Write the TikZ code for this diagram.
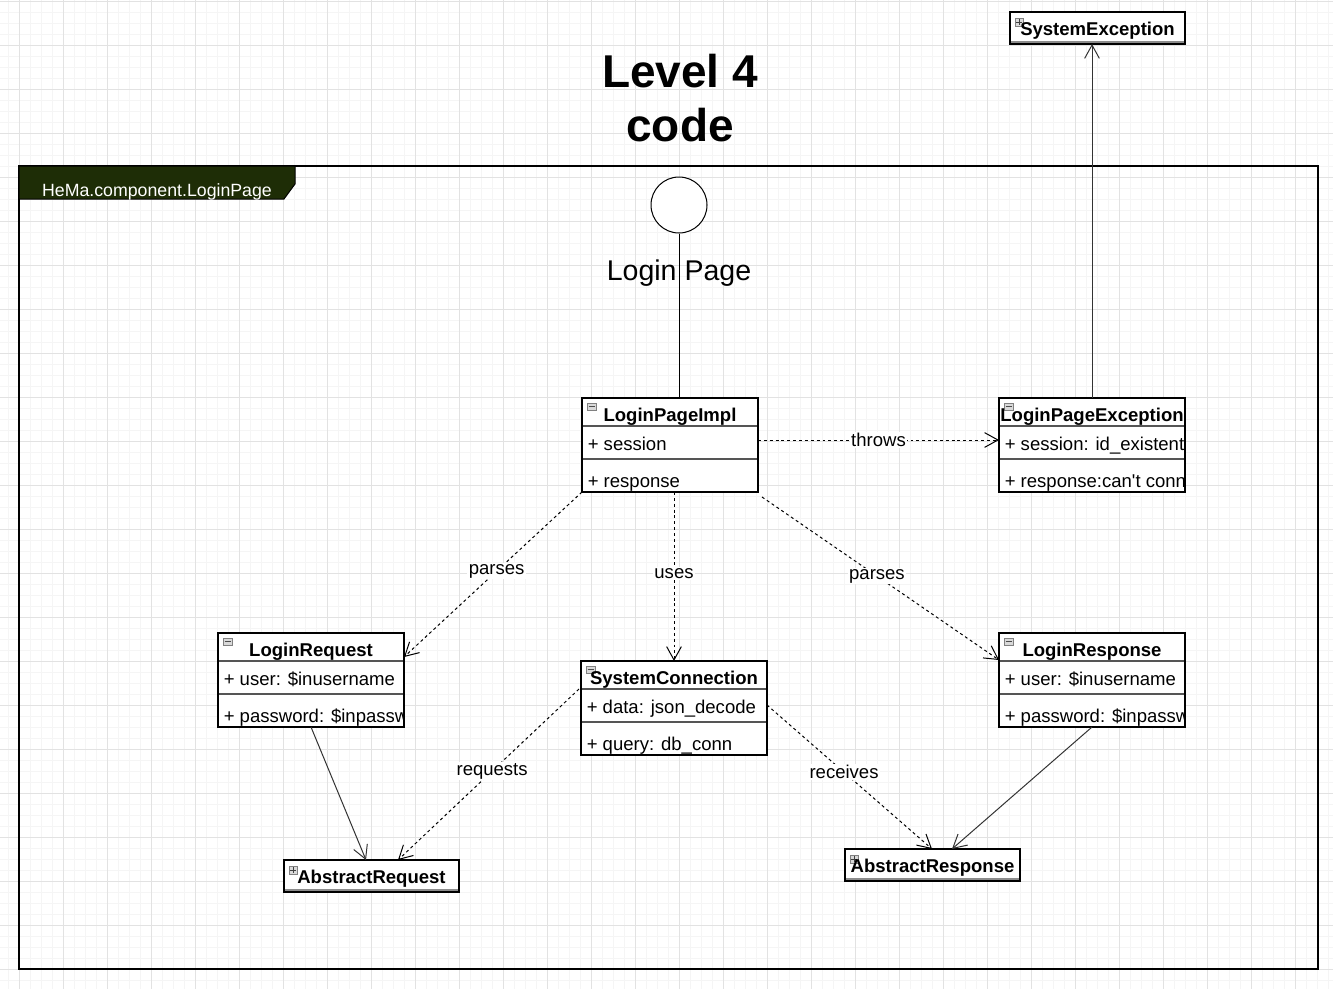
\documentclass[tikz,border=0pt]{standalone}
\usepackage{fontspec}
\setmainfont{Liberation Sans}
\usetikzlibrary{arrows.meta,calc}
\definecolor{tabgreen}{HTML}{1E2D06}
\definecolor{gridmajor}{HTML}{E2E2E2}
\definecolor{gridminor}{HTML}{F5F5F5}
\definecolor{divgray}{HTML}{555555}
\tikzset{
  cbox/.style={draw=black, line width=0.9pt, fill=white, inner sep=0pt, outer sep=0pt, rectangle},
  divline/.style={draw=divgray, line width=1.1pt},
  ctitle/.style={font=\fontsize{13.9}{16}\selectfont\bfseries, inner sep=0pt, anchor=base},
  cattr/.style={font=\fontsize{13.9}{16}\selectfont, inner sep=0pt, anchor=base west},
  lab/.style={font=\fontsize{13.9}{16}\selectfont, fill=white, inner sep=1pt},
  dep/.style={draw=black, line width=0.75pt, dash pattern=on 2.2pt off 2.2pt, -{Straight Barb[length=10pt,width=11pt]}},
  gen/.style={draw=black!80, line width=0.75pt, -{Straight Barb[length=10pt,width=11pt]}},
  icon/.style={draw=black!50, fill=black!15, line width=0.5pt},
}
\newcommand\umlclass[7]{%
  \node[cbox, anchor=north west, minimum width=#4*0.75pt, minimum height=70.5pt] (#1) at (#2,#3) {};
  \draw[divline] ($(#1.north west)+(0,28)$) -- ($(#1.north east)+(0,28)$);
  \draw[divline] ($(#1.north west)+(0,61)$) -- ($(#1.north east)+(0,61)$);
  \draw[icon] ($(#1.north west)+(5,5)$) rectangle ($(#1.north west)+(14,12)$);
  \draw[black!70, line width=0.6pt] ($(#1.north west)+(6.5,8.5)$) -- ($(#1.north west)+(12.5,8.5)$);
  \begin{scope}
    \clip (#1.north west) rectangle (#1.south east);
    \node[ctitle] at ($(#1.north)+(0,23)$) {#5};
    \node[cattr] at ($(#1.north west)+(5.5,52.5)$) {#6};
    \node[cattr] at ($(#1.north west)+(5.5,89)$) {#7};
  \end{scope}
  \draw[line width=0.9pt] (#1.north west) rectangle (#1.south east);
}
\newcommand\umlsmall[5]{%
  \node[cbox, anchor=north west, minimum width=#4*0.75pt, minimum height=24pt] (#1) at (#2,#3) {};
  \draw[black!45, line width=1.6pt] ($(#1.north west)+(0,29.6)$) -- ($(#1.north east)+(0,29.6)$);
  \draw[icon] ($(#1.north west)+(5,6)$) rectangle ($(#1.north west)+(13,14)$);
  \draw[black!75, line width=0.6pt] ($(#1.north west)+(6.3,10)$) -- ($(#1.north west)+(11.7,10)$);
  \draw[black!75, line width=0.6pt] ($(#1.north west)+(9,7.3)$) -- ($(#1.north west)+(9,12.7)$);
  \node[ctitle] at ($(#1.north)+(0,23.5)$) {#5};
  \draw[line width=0.9pt] (#1.north west) rectangle (#1.south east);
}
\begin{document}
\begin{tikzpicture}[x=0.75pt, y=-0.75pt]
\useasboundingbox (0,0) rectangle (1333,989);
\fill[white] (0,0) rectangle (1333,989);
% grid
\foreach \gx in {8.5,19.5,...,1333} \draw[gridminor, line width=0.75pt] (\gx,0) -- (\gx,989);
\foreach \gy in {1,12,...,989} \draw[gridminor, line width=0.75pt] (0,\gy) -- (1333,\gy);
\foreach \gx in {19.5,63.5,...,1333} \draw[gridmajor, line width=0.75pt] (\gx,0) -- (\gx,989);
\foreach \gy in {1,45,...,989} \draw[gridmajor, line width=0.75pt] (0,\gy) -- (1333,\gy);
% title
\node[font=\fontsize{34.5}{40.5}\selectfont\bfseries, align=center, inner sep=0pt] (title) at (680,98.5) {Level 4\\code};
% package frame
\draw[line width=0.8pt] (19,166) rectangle (1318,969);
\filldraw[fill=tabgreen, draw=black, line width=0.75pt] (19,166) -- (295,166) -- (295,184) -- (284,199) -- (19,199) -- cycle;
\node[font=\fontsize{13.3}{16}\selectfont, text=white, inner sep=0pt, anchor=base] (pkgname) at (157,196) {HeMa.component.LoginPage};
% interface
\node[draw, circle, fill=white, line width=0.75pt, minimum size=42pt, inner sep=0pt] (lp) at (679,205) {};
% classes
\umlclass{lpi}{582}{398}{176}{LoginPageImpl}{+ session}{+ response}
\umlclass{lpe}{999}{398}{186}{LoginPageException}{+ session: id\_existent}{+ response:can\textquotesingle t connect}
\umlclass{lreq}{218}{633}{186}{LoginRequest}{+ user: \$inusername}{+ password: \$inpassword}
\umlclass{sc}{581}{661}{186}{SystemConnection}{+ data: json\_decode}{+ query: db\_conn}
\umlclass{lresp}{999}{633}{186}{LoginResponse}{+ user: \$inusername}{+ password: \$inpassword}
\umlsmall{se}{1010}{12}{175}{SystemException}
\umlsmall{ar}{284}{860}{175}{AbstractRequest}
\umlsmall{aresp}{845}{849}{175}{AbstractResponse}
% interface line and label
\draw[line width=0.75pt] (lp.south) -- (lp.south |- lpi.north);
\node[font=\fontsize{21.4}{24}\selectfont, inner sep=0pt, anchor=base] (lplabel) at (679,280) {Login Page};
% connectors
\draw[gen] (lpe.north) -- (lpe.north |- se.south);
\draw[dep] ($(lpi.north east)+(0,42)$) -- node[lab]{throws} ($(lpe.north west)+(0,42)$);
\draw[dep] (lpi.south west) -- node[lab,pos=0.48]{parses} ($(lreq.north east)+(0,24)$);
\draw[dep] (sc.north |- lpi.south) -- node[lab,pos=0.48]{uses} (sc.north);
\draw[dep] ($(lpi.south east)+(4,5)$) -- node[lab,pos=0.485]{parses} ($(lresp.north west)+(0,27)$);
\draw[dep] ($(sc.north west)+(-2,28)$) -- node[lab,pos=0.48]{requests} ($(ar.north west)+(114,0)$);
\draw[dep] ($(sc.north east)+(0,44)$) -- node[lab,pos=0.467]{receives} ($(aresp.north west)+(87,0)$);
\draw[gen] (lreq.south) -- ($(ar.north west)+(82,0)$);
\draw[gen] (lresp.south) -- ($(aresp.north west)+(107,0)$);
\end{tikzpicture}
\end{document}
